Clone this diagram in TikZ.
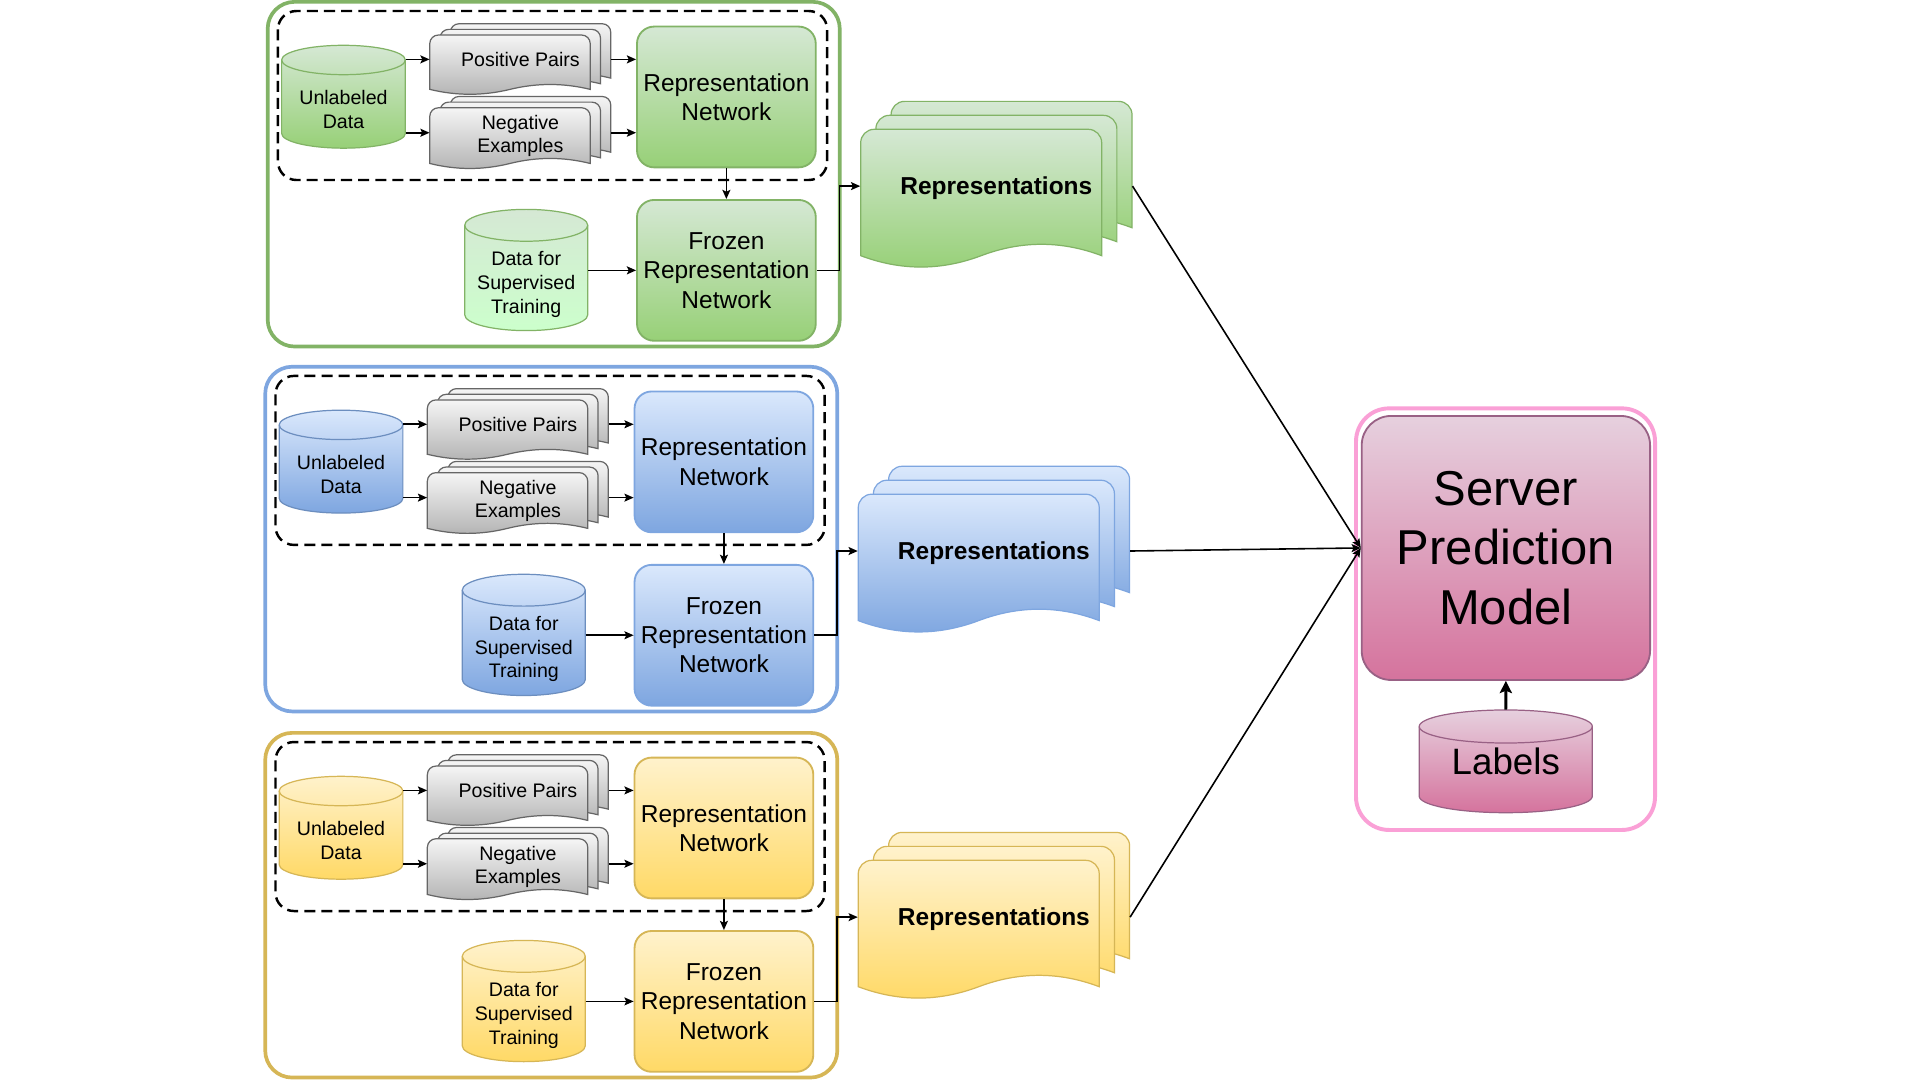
\documentclass[tikz,border=0pt]{standalone}
\usepackage{fontspec}
\setmainfont{Liberation Sans}
\usetikzlibrary{arrows.meta}
\definecolor{gT}{HTML}{D5E8D4}
\definecolor{gB}{HTML}{97D077}
\definecolor{gS}{HTML}{82B366}
\definecolor{gL}{HTML}{CCFFCC}
\definecolor{bT}{HTML}{DAE8FC}
\definecolor{bB}{HTML}{7EA6E0}
\definecolor{bS}{HTML}{6C8EBF}
\definecolor{yT}{HTML}{FFF2CC}
\definecolor{yB}{HTML}{FFD966}
\definecolor{yS}{HTML}{D6B656}
\definecolor{grT}{HTML}{F5F5F5}
\definecolor{grB}{HTML}{B3B3B3}
\definecolor{grS}{HTML}{666666}
\definecolor{pT}{HTML}{E6D0DE}
\definecolor{pB}{HTML}{D5739D}
\definecolor{pS}{HTML}{996185}
\definecolor{pO}{HTML}{FAA0D6}
\tikzset{
 arr/.style={-{Stealth[length=7.5pt,width=6.5pt,inset=1.5pt]}, line width=1.3pt, draw=black},
 thickarr/.style={-{Stealth[length=10pt,width=10pt,inset=2pt]}, line width=2.4pt, draw=black},
 dashbox/.style={draw=black, line width=2pt, dash pattern=on 9pt off 5pt, rounded corners=15pt},
 boxbase/.style={rounded corners=14pt, minimum width=146pt, minimum height=115pt, inner sep=0pt, align=center, font=\fontsize{20}{24}\selectfont, line width=1.5pt},
 Gbox/.style={boxbase, draw=gS, top color=gT, bottom color=gB},
 Bbox/.style={boxbase, draw=bB, top color=bT, bottom color=bB},
 Ybox/.style={boxbase, draw=yS, top color=yT, bottom color=yB},
 Gpage/.style={draw=gS, line width=1pt, top color=gT, bottom color=gB},
 Bpage/.style={draw=bB, line width=1pt, top color=bT, bottom color=bB},
 Ypage/.style={draw=yS, line width=1pt, top color=yT, bottom color=yB},
 Gcyl/.style={draw=gS, line width=1pt, top color=gT, bottom color=gB},
 Bcyl/.style={draw=bS, line width=1pt, top color=bT, bottom color=bB},
 Ycyl/.style={draw=yS, line width=1pt, top color=yT, bottom color=yB},
 Gdcyl/.style={draw=gS, line width=1pt, top color=gT, bottom color=gL},
 Bdcyl/.style={draw=bS, line width=1pt, top color=bT, bottom color=bB},
 Ydcyl/.style={draw=yS, line width=1pt, top color=yT, bottom color=yB},
 Pcyl/.style={draw=pS, line width=1pt, top color=pT, bottom color=pB},
 Gcyl line/.style={draw=gS, line width=1pt},
 Bcyl line/.style={draw=bS, line width=1pt},
 Ycyl line/.style={draw=yS, line width=1pt},
 Gdcyl line/.style={draw=gS, line width=1pt},
 Bdcyl line/.style={draw=bS, line width=1pt},
 Ydcyl line/.style={draw=yS, line width=1pt},
 Pcyl line/.style={draw=pS, line width=1pt},
 Gouter/.style={draw=gS, line width=3pt, rounded corners=22pt},
 Bouter/.style={draw=bB, line width=3pt, rounded corners=22pt},
 Youter/.style={draw=yS, line width=3pt, rounded corners=22pt},
 pouter/.style={draw=pO, line width=3.2pt, rounded corners=27pt},
 graypage/.style={draw=grS, line width=1pt, top color=grT, bottom color=grB},
 stacklbl/.style={font=\fontsize{16}{19}\selectfont, align=center, minimum width=148pt, inner sep=0pt},
 cyltext/.style={font=\fontsize{16}{19.5}\selectfont, align=center, inner sep=0pt},
 replbl/.style={font=\bfseries\fontsize{20}{24}\selectfont, minimum width=222pt, inner sep=0pt},
 serverbox/.style={rounded corners=24pt, minimum width=235.5pt, minimum height=215.6pt, inner sep=0pt, align=center, font=\fontsize{40}{48.5}\selectfont, draw=pS, line width=1.5pt, top color=pT, bottom color=pB},
}
% cylinder: #1 name, #2 x1, #3 x2, #4 ytop, #5 ybot, #6 ry, #7 style, #8 text y, #9 text
\newcommand\mycyl[9]{%
 \pgfmathsetmacro\cylcx{(#2+#3)/2}%
 \pgfmathsetmacro\cylkx{0.5523*(#3-#2)/2}%
 \pgfmathsetmacro\cylky{0.5523*#6}%
 \pgfmathsetmacro\cylyt{#4+#6}%
 \pgfmathsetmacro\cylyb{#5-#6}%
 \pgfmathsetmacro\cylw{#3-#2}%
 \pgfmathsetmacro\cylh{2*(#8-#4)}%
 \path[#7] (#2,\cylyt) -- (#2,\cylyb) .. controls (#2,\cylyb+\cylky) and (\cylcx-\cylkx,#5) .. (\cylcx,#5) .. controls (\cylcx+\cylkx,#5) and (#3,\cylyb+\cylky) .. (#3,\cylyb) -- (#3,\cylyt) .. controls (#3,\cylyt-\cylky) and (\cylcx+\cylkx,#4) .. (\cylcx,#4) .. controls (\cylcx-\cylkx,#4) and (#2,\cylyt-\cylky) .. cycle;
 \draw[#7 line] (#2,\cylyt) .. controls (#2,\cylyt+\cylky) and (\cylcx-\cylkx,\cylyt+#6) .. (\cylcx,\cylyt+#6) .. controls (\cylcx+\cylkx,\cylyt+#6) and (#3,\cylyt+\cylky) .. (#3,\cylyt);
 \node[cyltext, minimum width=\cylw, minimum height=\cylh] (#1) at (\cylcx,#8) {#9};
}
% document page: #1 style, #2 x, #3 top, #4 w, #5 side height, #6 corner r
\newcommand\docpage[6]{%
 \pgfmathsetmacro\dA{0.12*#5}%
 \path[#1] (#2,#3+#5) -- (#2,#3+#6) .. controls (#2,#3+0.4477*#6) and (#2+0.4477*#6,#3) .. (#2+#6,#3)
  -- (#2+#4-#6,#3) .. controls (#2+#4-0.4477*#6,#3) and (#2+#4,#3+0.4477*#6) .. (#2+#4,#3+#6)
  -- (#2+#4,#3+#5) .. controls (#2+0.8333*#4,#3+#5-\dA) and (#2+0.6667*#4,#3+#5-\dA) .. (#2+0.5*#4,#3+#5)
  .. controls (#2+0.3333*#4,#3+#5+\dA) and (#2+0.1667*#4,#3+#5+\dA) .. (#2,#3+#5) -- cycle;
}
\newcommand\docstack[8]{%
 \docpage{#1}{#2+2*#7}{#3-2*#8}{#4}{#5}{#6}%
 \docpage{#1}{#2+#7}{#3-#8}{#4}{#5}{#6}%
 \docpage{#1}{#2}{#3}{#4}{#5}{#6}%
}
\newcommand\clientblock[2]{%
 \draw[#2outer] (218.6,1.5) rectangle (685.8,283);
 \draw[dashbox] (227,9) rectangle (675.5,147);
 \mycyl{ud#1}{230}{331}{37}{121}{12}{#2cyl}{89.5}{Unlabeled\\Data}
 \docstack{graypage}{351}{28.6}{131}{44.4}{7}{8.4}{4.6}
 \node[stacklbl] (pp#1) at (425,48.5) {Positive Pairs};
 \docstack{graypage}{351}{88}{131}{45.5}{7}{8.4}{4.6}
 \node[stacklbl] (ne#1) at (425,110.8) {Negative\\Examples};
 \node[#2box] (rn#1) at (593.2,79.2) {Representation\\Network};
 \node[#2box] (fr#1) at (593.2,220.8) {Frozen\\Representation\\Network};
 \mycyl{dc#1}{379.5}{480}{171}{270}{13}{#2dcyl}{232}{Data for\\Supervised\\Training}
 \docstack{#2page}{702.9}{105.6}{196.8}{103.2}{11}{12.4}{11.4}
 \node[replbl] (rp#1) at (813.7,154) {Representations};
 \draw[arr] ([yshift=2.4pt]ud#1.east |- ne#1.west) -- ([yshift=2.4pt]ne#1.west);
 \draw[arr] (ud#1.east |- pp#1.west) -- (pp#1.west);
 \draw[arr] (pp#1.east) -- (pp#1.east -| rn#1.west);
 \draw[arr] ([yshift=2.4pt]ne#1.east) -- ([yshift=2.4pt]ne#1.east -| rn#1.west);
 \draw[arr] (rn#1.south) -- (fr#1.north);
 \draw[arr] (dc#1.east |- fr#1.west) -- (fr#1.west);
 \draw[arr] (fr#1.east) -- ++(18.6,0) |- ([yshift=2pt]rp#1.west);
}
\begin{document}
\begin{tikzpicture}[x=1pt,y=-1pt]
\useasboundingbox[fill=white] (0,0) rectangle (1568,882);
\begin{scope}\clientblock{1}{G}\end{scope}
\begin{scope}[shift={(-2,298)}]\clientblock{2}{B}\end{scope}
\begin{scope}[shift={(-2,597)}]\clientblock{3}{Y}\end{scope}
\draw[pouter] (1107.4,333.5) rectangle (1351.6,677.8);
\node[serverbox] (sv) at (1229.8,447.5) {Server\\Prediction\\Model};
\mycyl{lb}{1159}{1300.4}{579.8}{663.7}{13.5}{Pcyl}{622}{{\fontsize{30}{36}\selectfont Labels}}
\draw[thickarr] (lb.north) -- (sv.south);
\draw[arr] ([yshift=2pt]rp1.east) -- (sv.west);
\draw[arr] ([yshift=2pt]rp2.east) -- (sv.west);
\draw[arr] ([yshift=2pt]rp3.east) -- (sv.west);
\end{tikzpicture}
\end{document}
